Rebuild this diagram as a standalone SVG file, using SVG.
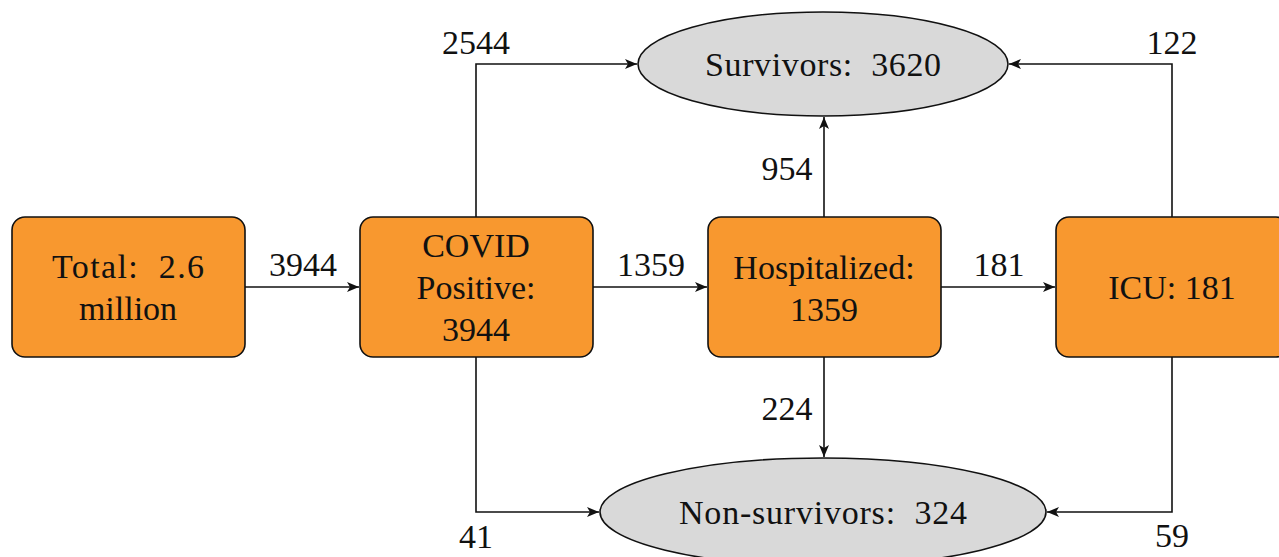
<svg xmlns="http://www.w3.org/2000/svg" width="1279" height="557" viewBox="0 0 1279 557">
<style>
text{font-family:"Liberation Serif","Times New Roman",serif;font-size:34px;fill:#111;text-anchor:middle;white-space:pre}
.box{fill:#F8982F;stroke:#111;stroke-width:1.6}
.ell{fill:#D9D9D9;stroke:#111;stroke-width:1.6}
.con{fill:none;stroke:#111;stroke-width:1.6;marker-end:url(#arr)}
</style>
<defs>
<marker id="arr" markerWidth="14" markerHeight="10" refX="12" refY="5" orient="auto" markerUnits="userSpaceOnUse">
<path d="M0,0 L12,5 L0,10 L3,5 Z" fill="#111"/>
</marker>
</defs>
<rect width="1279" height="557" fill="#fff"/>
<g id="connectors">
<path class="con" d="M245,287 H359"/>
<path class="con" d="M593,287 H707"/>
<path class="con" d="M941,287 H1055"/>
<path class="con" d="M476,217 V64 H637"/>
<path class="con" d="M476,357 V512 H599"/>
<path class="con" d="M824,217 V117"/>
<path class="con" d="M824,357 V457"/>
<path class="con" d="M1172,217 V64 H1009"/>
<path class="con" d="M1172,357 V512 H1047"/>
<text x="303" y="276">3944</text>
<text x="651" y="276">1359</text>
<text x="999" y="276">181</text>
<text x="476" y="54">2544</text>
<text x="476" y="548">41</text>
<text x="787" y="180">954</text>
<text x="787" y="420">224</text>
<text x="1172" y="54">122</text>
<text x="1172" y="547">59</text>
</g>
<g id="total">
<rect class="box" x="12" y="217" width="233" height="140" rx="13"/>
<text x="128" y="278" textLength="152" lengthAdjust="spacing">Total:  2.6</text>
<text x="128" y="320">million</text>
</g>
<g id="covid">
<rect class="box" x="360" y="217" width="233" height="140" rx="13"/>
<text x="476" y="257">COVID</text>
<text x="476" y="299">Positive:</text>
<text x="476" y="341">3944</text>
</g>
<g id="hospitalized">
<rect class="box" x="708" y="217" width="233" height="140" rx="13"/>
<text x="824" y="279">Hospitalized:</text>
<text x="824" y="321">1359</text>
</g>
<g id="icu">
<rect class="box" x="1056" y="217" width="233" height="140" rx="13"/>
<text x="1172" y="299">ICU: 181</text>
</g>
<g id="survivors">
<ellipse class="ell" cx="823" cy="64" rx="185" ry="52"/>
<text x="823" y="76" textLength="236" lengthAdjust="spacing">Survivors:  3620</text>
</g>
<g id="nonsurvivors">
<ellipse class="ell" cx="823" cy="512" rx="223" ry="54"/>
<text x="823" y="524" textLength="288" lengthAdjust="spacing">Non-survivors:  324</text>
</g>
</svg>
